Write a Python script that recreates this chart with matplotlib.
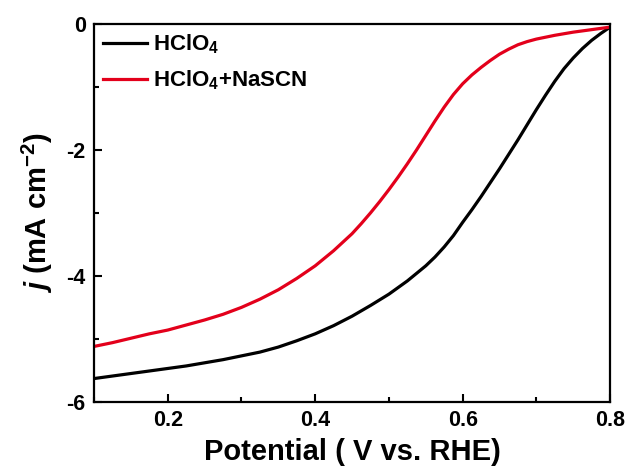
import matplotlib
matplotlib.use('Agg')
import matplotlib.pyplot as plt
from matplotlib.ticker import MultipleLocator

plt.rcParams['font.family'] = 'Liberation Sans'
plt.rcParams['font.weight'] = 'bold'
plt.rcParams['mathtext.fontset'] = 'custom'
plt.rcParams['mathtext.rm'] = 'Liberation Sans:bold'
plt.rcParams['mathtext.it'] = 'Liberation Sans:italic:bold'
plt.rcParams['mathtext.bf'] = 'Liberation Sans:bold'
plt.rcParams['axes.unicode_minus'] = False

# potential (V vs. RHE) and current density (mA cm-2)
v_hclo4 = [0.100, 0.125, 0.150, 0.175, 0.200, 0.225, 0.250, 0.275, 0.300, 0.325,
           0.350, 0.375, 0.400, 0.425, 0.450, 0.475, 0.500, 0.525, 0.550, 0.5625,
           0.575, 0.5875, 0.600, 0.6125, 0.625, 0.6375, 0.650, 0.6625, 0.675, 0.6875,
           0.700, 0.7125, 0.725, 0.7375, 0.750, 0.7625, 0.775, 0.7875, 0.800]
j_hclo4 = [-5.63, -5.59, -5.55, -5.51, -5.47, -5.43, -5.38, -5.33, -5.27, -5.21,
           -5.13, -5.03, -4.92, -4.79, -4.64, -4.47, -4.29, -4.08, -3.84, -3.70,
           -3.54, -3.36, -3.15, -2.95, -2.74, -2.52, -2.30, -2.07, -1.84, -1.60,
           -1.36, -1.13, -0.91, -0.71, -0.54, -0.39, -0.26, -0.15, -0.05]

v_nascn = [0.100, 0.125, 0.150, 0.175, 0.200, 0.225, 0.250, 0.275, 0.300, 0.325,
           0.350, 0.375, 0.400, 0.425, 0.450, 0.4625, 0.475, 0.4875, 0.500, 0.5125,
           0.525, 0.5375, 0.550, 0.5625, 0.575, 0.5875, 0.600, 0.6125, 0.625, 0.6375,
           0.650, 0.6625, 0.675, 0.6875, 0.700, 0.725, 0.750, 0.775, 0.800]
j_nascn = [-5.12, -5.06, -4.99, -4.92, -4.86, -4.78, -4.70, -4.61, -4.50, -4.37,
           -4.22, -4.04, -3.84, -3.60, -3.33, -3.17, -3.00, -2.82, -2.63, -2.43,
           -2.22, -2.00, -1.77, -1.54, -1.32, -1.12, -0.95, -0.81, -0.69, -0.58,
           -0.48, -0.40, -0.33, -0.28, -0.24, -0.18, -0.13, -0.09, -0.05]

labels = ['HClO$_4$', 'HClO$_4$+NaSCN']

fig = plt.figure(figsize=(6.27, 4.70), dpi=100)
ax = fig.add_axes([0.150, 0.145, 0.823, 0.804])

ax.plot(v_hclo4, j_hclo4, color='black', lw=2.3, label=labels[0])
ax.plot(v_nascn, j_nascn, color='#e3001b', lw=2.3, label=labels[1])

ax.set_xlim(0.1, 0.8)
ax.set_ylim(-6, 0)
ax.xaxis.set_minor_locator(MultipleLocator(0.1))
ax.yaxis.set_minor_locator(MultipleLocator(1))
ax.set_xticks([0.2, 0.4, 0.6, 0.8])
ax.set_xticklabels(['0.2', '0.4', '0.6', '0.8'])
ax.set_yticks([0, -2, -4, -6])
ax.set_yticklabels(['0', '-2', '-4', '-6'])

ax.tick_params(which='both', direction='in', top=False, right=False, width=1.5)
ax.tick_params(which='major', length=6, labelsize=15.5, pad=6)
ax.tick_params(which='minor', length=3.5)
for s in ax.spines.values():
    s.set_linewidth(1.6)

ax.set_xlabel('Potential ( V vs. RHE)', fontsize=21, fontweight='bold', labelpad=5)
ax.set_ylabel('$j$ (mA cm$^{-2}$)', fontsize=21, fontweight='bold', labelpad=8)

ax.legend(loc='upper left', frameon=False, fontsize=16, handlelength=2.0,
          handletextpad=0.25, labelspacing=0.55, borderaxespad=0.2,
          borderpad=0.2)

fig.savefig('out.png', dpi=100)
